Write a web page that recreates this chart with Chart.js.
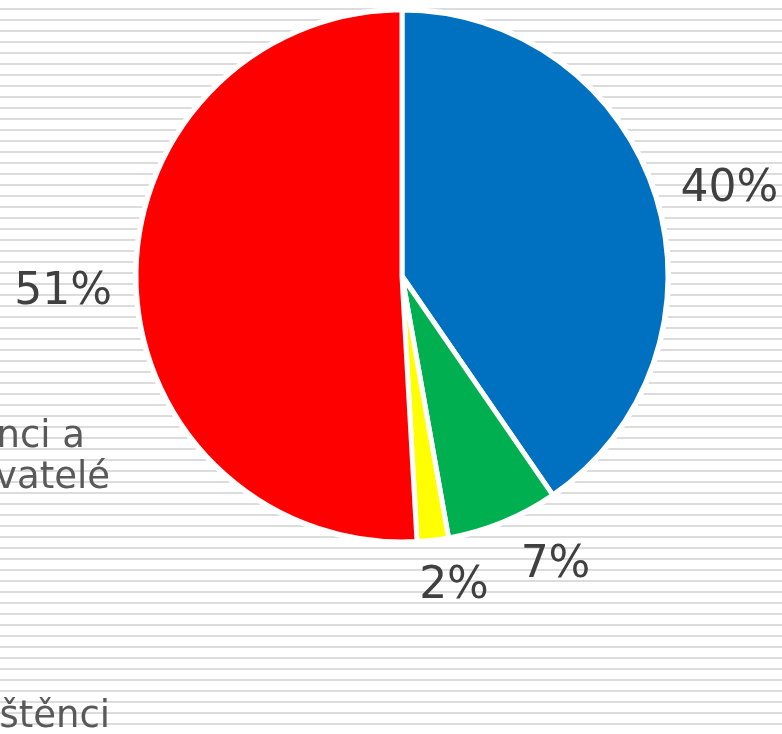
<!DOCTYPE html>
<html><head><meta charset="utf-8">
<script src="https://cdn.jsdelivr.net/npm/chart.js@4"></script>
<style>html,body{margin:0;padding:0;background:#fff;overflow:hidden}canvas{display:block}</style>
</head><body>
<canvas id="c" width="782" height="734"></canvas>
<script>
// data
const labels = ['Státní pojištěnci','OSVČ','Osoby bez zdanitelných příjmů','Zaměstnanci a zaměstnavatelé'];
const values = [40.4, 6.8, 1.9, 50.9];
const pctLabels = ['40%','7%','2%','51%'];
const colors = ['#0070C0','#00B050','#FFFF00','#FF0000'];
const legendLines = ['Zaměstnanci a','zaměstnavatelé','Pojištěnci'];

// striped slide background
const stripes = {
  id:'stripes',
  beforeDraw(chart){
    const {ctx,width,height} = chart;
    ctx.save();
    ctx.fillStyle='#fff'; ctx.fillRect(0,0,width,height);
    ctx.fillStyle='#dcdcdc';
    for(let y=8;y<height;y+=11) ctx.fillRect(0,y,width,2);
    ctx.restore();
  },
  beforeDatasetsDraw(chart){
    const arc = chart.getDatasetMeta(0).data[0];
    if(!arc) return;
    const ctx = chart.ctx;
    ctx.save();
    ctx.fillStyle='#fff';
    ctx.beginPath(); ctx.arc(arc.x, arc.y, arc.outerRadius+3, 0, Math.PI*2); ctx.fill();
    ctx.restore();
  }
};

// percentage labels outside the slices
const outLabels = {
  id:'outLabels',
  afterDatasetsDraw(chart, args, opts){
    const ctx = chart.ctx;
    ctx.save();
    ctx.font = opts.font; ctx.fillStyle = opts.color;
    ctx.textAlign='center'; ctx.textBaseline='alphabetic';
    chart.getDatasetMeta(0).data.forEach((arc,i)=>{
      const t = pctLabels[i];
      const mid = (arc.startAngle+arc.endAngle)/2;
      const dx = Math.cos(mid), dy = Math.sin(mid);
      const w = ctx.measureText(t).width, h = opts.textHeight;
      const R = arc.outerRadius + opts.pad;
      const n = opts.nudge[i] || [0,0];
      const cx = arc.x + dx*R + dx*w/2 + n[0];
      const cy = arc.y + dy*R + dy*h/2 + n[1];
      ctx.fillText(t, cx, cy + h/2);
    });
    ctx.restore();
  }
};

// clipped legend text at the left edge
const sideText = {
  id:'sideText',
  afterDraw(chart, args, opts){
    const ctx = chart.ctx;
    ctx.save();
    ctx.font = opts.font; ctx.fillStyle = opts.color;
    ctx.textAlign='right'; ctx.textBaseline='alphabetic';
    legendLines.forEach((t,i)=>{ const p = opts.pos[i]; ctx.fillText(t, p[0], p[1]); });
    ctx.restore();
  }
};

new Chart(document.getElementById('c'), {
  type:'pie',
  data:{
    labels: labels,
    datasets:[{
      data: values,
      backgroundColor: colors,
      borderColor:'#fff',
      borderWidth:5,
      radius:266
    }]
  },
  options:{
    responsive:false,
    animation:false,
    layout:{padding:{left:132,right:110,top:6,bottom:188}},
    plugins:{
      legend:{display:false},
      tooltip:{enabled:false},
      // order follows the slices: 40%, 7%, 2%, 51%
      outLabels:{font:'44px "DejaVu Sans"', color:'#404040', pad:27, textHeight:32,
        nudge:[[1,1],[29,-1],[14,-1],[3,3]]},
      sideText:{font:'37px "DejaVu Sans"', color:'#595959', pos:[[85,447],[110,488],[110,727]]}
    }
  },
  plugins:[stripes, outLabels, sideText]
});
</script>
</body></html>
